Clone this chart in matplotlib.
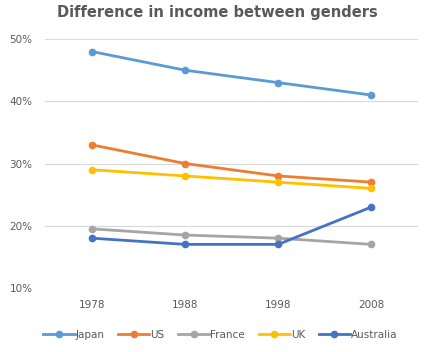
import matplotlib.pyplot as plt
from matplotlib.ticker import FuncFormatter

# Data
years = ['1978', '1988', '1998', '2008']
japan = [48, 45, 43, 41]
us = [33, 30, 28, 27]
france = [19.5, 18.5, 18, 17]
uk = [29, 28, 27, 26]
australia = [18, 17, 17, 23]

series = [
    ('Japan', japan, '#5B9BD5'),
    ('US', us, '#ED7D31'),
    ('France', france, '#A5A5A5'),
    ('UK', uk, '#FFC000'),
    ('Australia', australia, '#4472C4'),
]

fig = plt.figure(figsize=(4.3, 3.52), dpi=100)
ax = fig.add_axes([0.105, 0.182, 0.867, 0.707])

x = range(len(years))
for name, vals, color in series:
    ax.plot(x, vals, color=color, linewidth=2.0, marker='o', markersize=4.5, label=name)

ax.set_xlim(-0.5, len(years) - 0.5)
ax.set_ylim(10, 50)
ax.set_yticks([10, 20, 30, 40, 50])
ax.yaxis.set_major_formatter(FuncFormatter(lambda v, p: f'{v:.0f}%'))
ax.set_xticks(list(x))
ax.set_xticklabels(years)
ax.grid(axis='y', color='#D9D9D9', linewidth=0.8)
ax.set_axisbelow(True)
for s in ax.spines.values():
    s.set_visible(False)
ax.tick_params(length=0, labelsize=7.5, labelcolor='#595959', pad=9)

fig.suptitle('Difference in income between genders', x=0.505, y=0.985,
             fontsize=10.5, fontweight='bold', color='#595959')

ax.legend(loc='upper center', bbox_to_anchor=(0.47, -0.13), ncol=5, frameon=False,
          fontsize=7.5, labelcolor='#595959', handlelength=3.0, columnspacing=1.3,
          handletextpad=0.1)

fig.savefig('out.png', dpi=100)
